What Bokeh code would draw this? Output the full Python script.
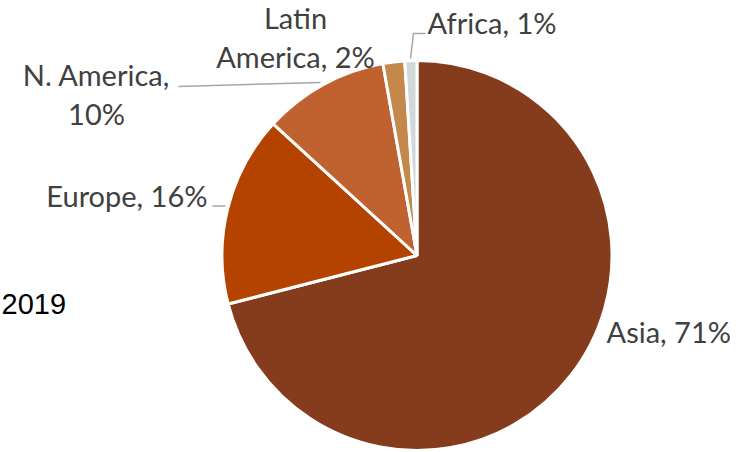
import numpy as np
from bokeh.plotting import figure
from bokeh.models import Range1d, ColumnDataSource
from bokeh.core.properties import value
from bokeh.embed import file_html
from bokeh.resources import INLINE

# ---- data ----
regions = ["Asia", "Europe", "N. America", "Latin America", "Africa"]
shares = [71.0, 15.8, 10.4, 1.8, 1.0]
colors = ["#843C1C", "#B54300", "#C0622F", "#C4884B", "#D0D8DA"]
year_label = "2019"

# label text (line breaks as in the picture)
label_lines = [
    ["Asia, {}%"],
    ["Europe, {}%"],
    ["N. America,", "{}%"],
    ["Latin", "America, {}%"],
    ["Africa, {}%"],
]

# ---- layout (picture pixel coordinates; y measured downwards) ----
W, H = 738, 452
cx, cy, R = 416.5, 255.0, 195.0
LINE = 39
label_pos = [  # x, y (centre of label block), alignment
    (606, 331, "left"),
    (207, 195, "right"),
    (96, 93.5, "center"),
    (295, 36.5, "center"),
    (427, 22, "left"),
]
leaders = [
    ([178, 320], [86, 82]),
    ([212, 225], [205.5, 205.5]),
    ([410, 413, 425], [58, 33, 33]),
]

p = figure(width=W, height=H, output_backend="svg", toolbar_location=None,
           x_range=Range1d(0, W), y_range=Range1d(-H, 0),
           min_border=0, border_fill_color="white")
p.axis.visible = False
p.grid.visible = False
p.outline_line_color = None

frac = np.array(shares) / sum(shares)
cum = np.concatenate([[0], np.cumsum(frac)])
start = np.pi / 2 - 2 * np.pi * cum[:-1]
end = np.pi / 2 - 2 * np.pi * cum[1:]
src = ColumnDataSource(dict(start=start, end=end, color=colors, region=regions))
p.wedge(x=cx, y=-cy, radius=R, radius_units="screen", start_angle="start",
        end_angle="end", direction="clock", fill_color="color",
        line_color="white", line_width=3, source=src)

for xs, ys in leaders:
    p.line(xs, [-y for y in ys], line_color="#A6A6A6", line_width=1.5)

tx, ty, tt, ta = [], [], [], []
for lines, s, (lx, ly, al) in zip(label_lines, shares, label_pos):
    n = len(lines)
    for i, ln in enumerate(lines):
        tx.append(lx)
        ty.append(-(ly + (i - (n - 1) / 2) * LINE))
        tt.append(ln.format(int(round(s))))
        ta.append(al)
p.text(x="x", y="y", text="t", text_align="a",
       source=ColumnDataSource(dict(x=tx, y=ty, t=tt, a=ta)),
       text_font=value("Lato"), text_font_size="29px", text_color="#404040",
       text_baseline="middle")

p.text(x=[1], y=[-303], text=[year_label], text_font=value("Liberation Sans"),
       text_font_size="29px", text_color="#000000", text_align="left",
       text_baseline="middle")

open("out.html", "w").write(file_html(p, INLINE))
